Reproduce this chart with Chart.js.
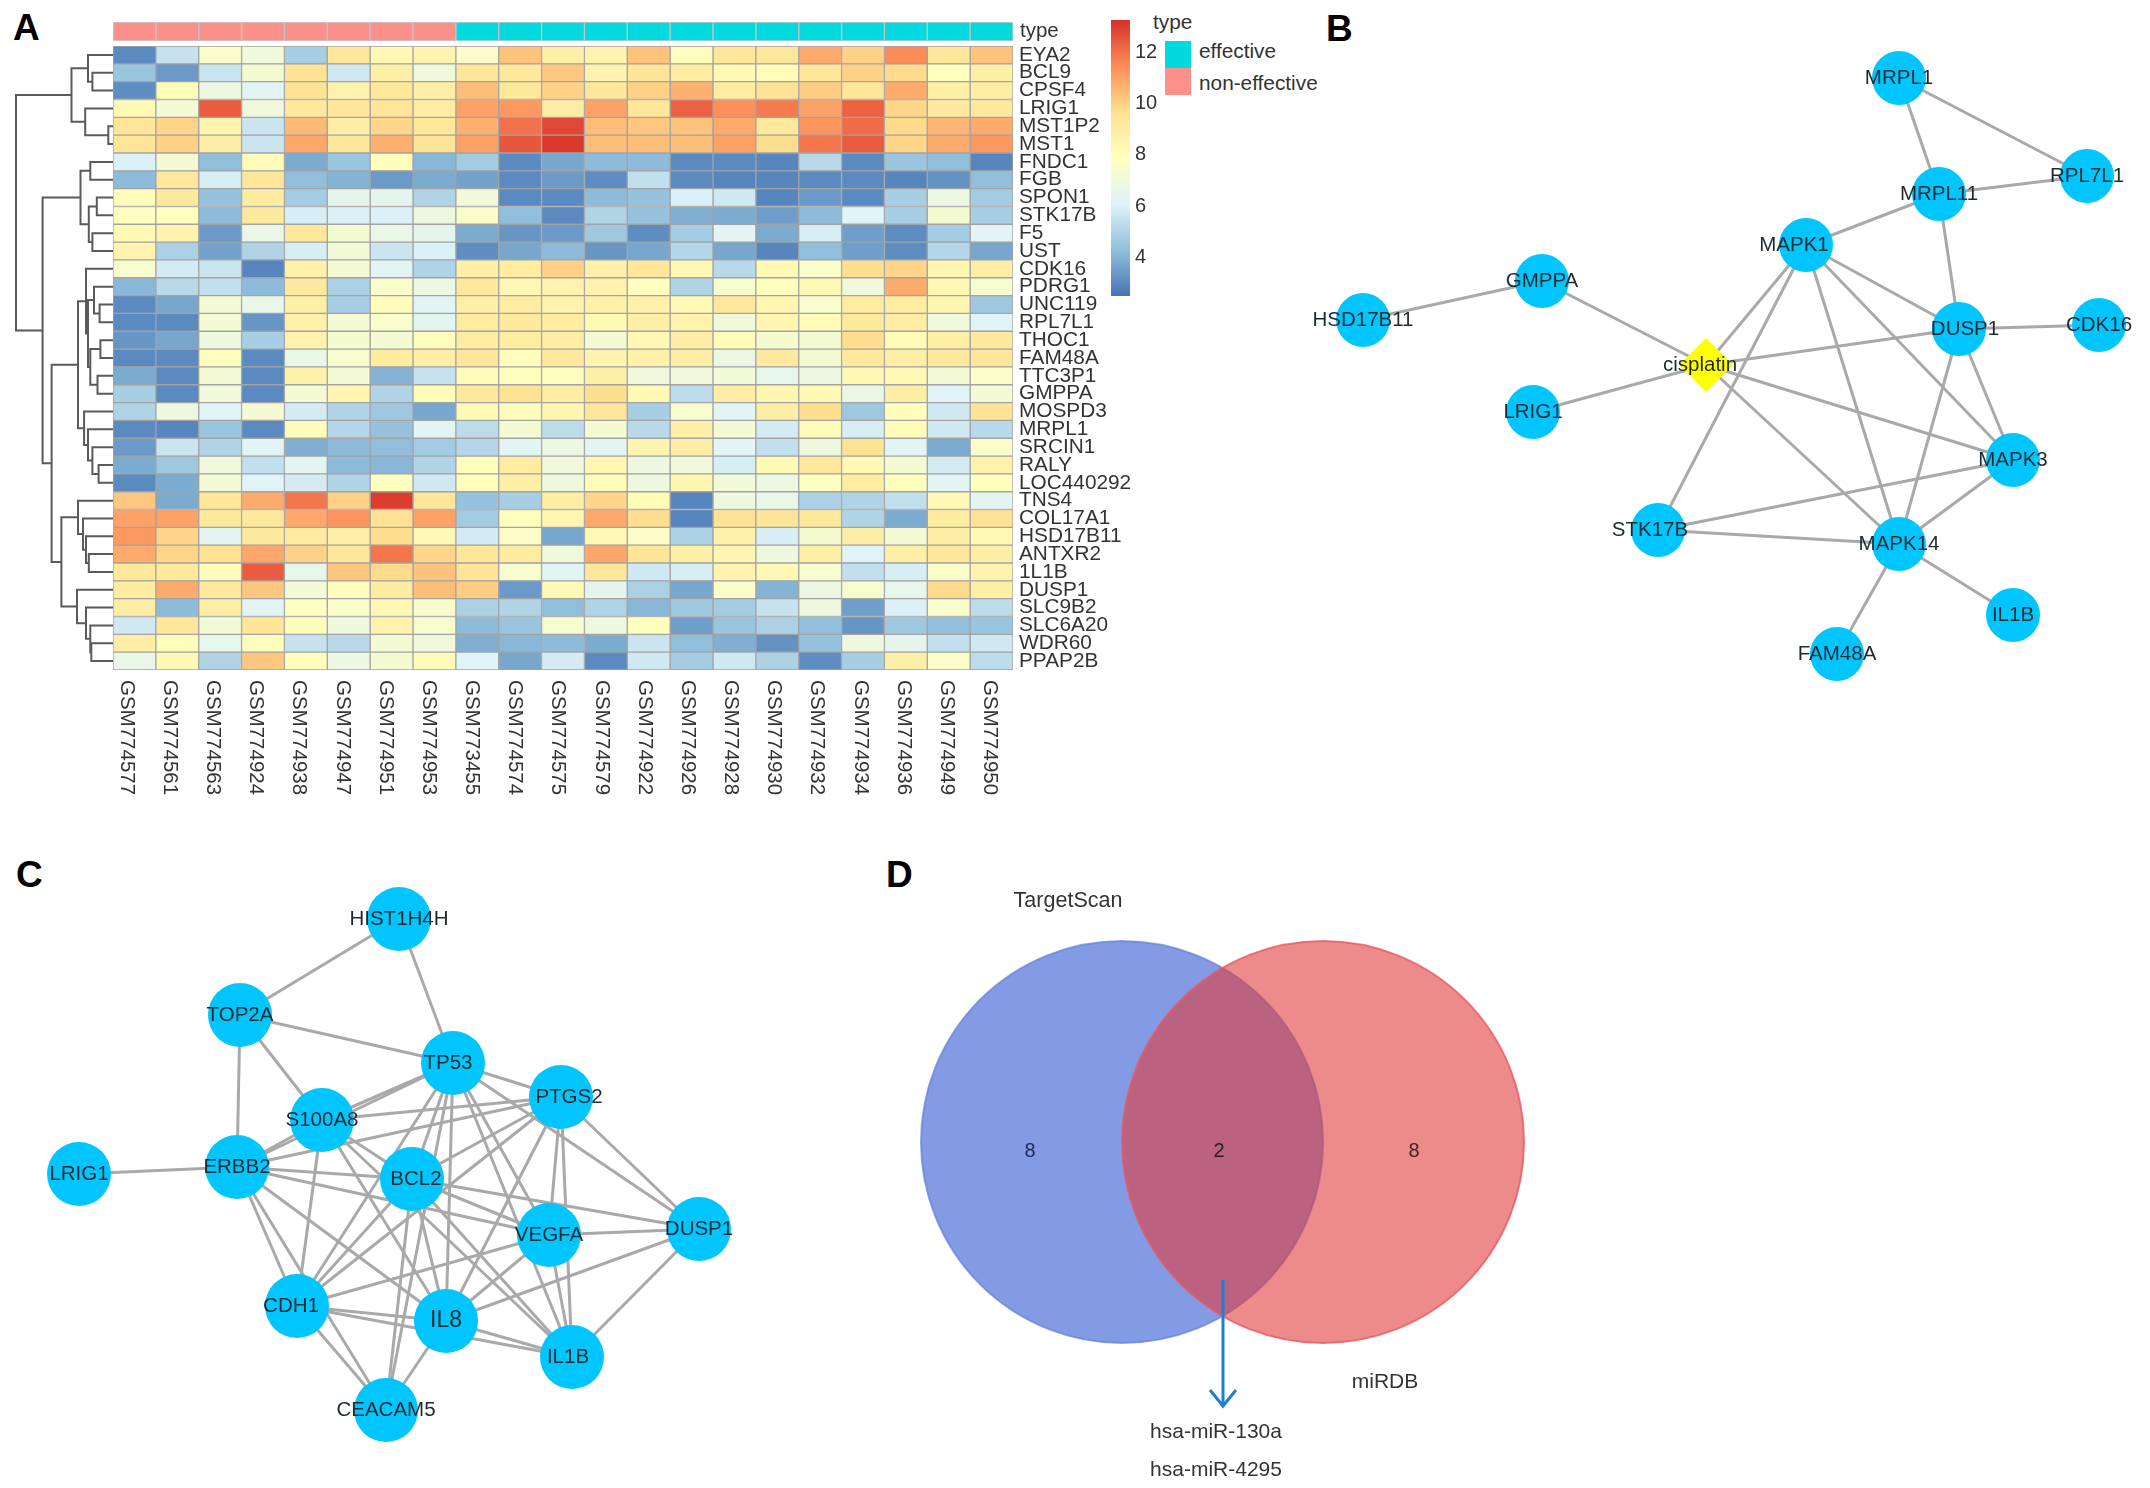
<!DOCTYPE html>
<html>
<head>
<meta charset="utf-8">
<title>Cisplatin response panels</title>
<script src="https://cdn.jsdelivr.net/npm/chart.js@4/dist/chart.umd.min.js"></script>
<style>
    html, body { margin: 0; padding: 0; background: #fff; }
    body { width: 2150px; height: 1488px; position: relative; overflow: hidden; font-family: "Liberation Sans", Arial, sans-serif; filter: blur(0.6px); }
    canvas { position: absolute; }
    .txt { position: absolute; color: #333; font-size: 20.8px; line-height: 1; white-space: nowrap; }
    .letter { position: absolute; color: #000; font-size: 37px; font-weight: bold; line-height: 1; }
    .swatch { position: absolute; left: 1165px; width: 26px; height: 27px; }
</style>
</head>
<body>
<div class="letter" style="left:13px;top:9px">A</div>
<div class="letter" style="left:1326px;top:10px">B</div>
<div class="letter" style="left:16px;top:856px">C</div>
<div class="letter" style="left:886px;top:856px">D</div>
<div class="txt" style="left:1153px;top:12px">type</div>
<div class="swatch" style="top:41px;background:#00d9dd"></div>
<div class="swatch" style="top:68px;background:#fb918a"></div>
<div class="txt" style="left:1199px;top:41px">effective</div>
<div class="txt" style="left:1199px;top:73px">non-effective</div>

<script>
// --- DATA ---
const genes = ['EYA2','BCL9','CPSF4','LRIG1','MST1P2','MST1','FNDC1','FGB','SPON1','STK17B','F5','UST','CDK16','PDRG1','UNC119','RPL7L1','THOC1','FAM48A','TTC3P1','GMPPA','MOSPD3','MRPL1','SRCIN1','RALY','LOC440292','TNS4','COL17A1','HSD17B11','ANTXR2','1L1B','DUSP1','SLC9B2','SLC6A20','WDR60','PPAP2B'];
const samples = ['GSM774577','GSM774561','GSM774563','GSM774924','GSM774938','GSM774947','GSM774951','GSM774953','GSM773455','GSM774574','GSM774575','GSM774579','GSM774922','GSM774926','GSM774928','GSM774930','GSM774932','GSM774934','GSM774936','GSM774949','GSM774950'];
const sampleTypes = ['non-effective','non-effective','non-effective','non-effective','non-effective','non-effective','non-effective','non-effective','effective','effective','effective','effective','effective','effective','effective','effective','effective','effective','effective','effective','effective'];
const typeRow = ['type'];

// one row per gene, one value per sample
const expression = [
    [3.0,5.5,7.5,7.0,4.8,9.3,8.3,8.5,7.5,10.3,8.8,8.5,10.3,8.0,9.3,9.2,10.8,10.0,11.5,9.3,10.3],
    [4.5,3.4,5.6,7.3,9.5,5.7,8.8,7.0,9.3,9.2,10.2,8.5,9.4,9.0,8.2,8.1,9.3,10.0,9.8,7.9,8.8],
    [3.1,8.1,6.8,6.2,9.5,8.6,9.2,8.8,10.4,9.2,10.0,9.3,10.0,10.7,9.0,9.5,10.1,9.3,10.8,8.8,8.9],
    [8.2,7.2,12.4,7.0,9.2,9.3,9.4,9.0,11.0,11.2,8.9,11.0,9.3,12.3,11.4,11.8,11.0,12.3,9.9,9.1,9.2],
    [9.4,9.9,8.5,5.6,10.5,8.9,9.9,9.2,10.7,12.0,12.8,10.4,10.2,10.3,10.8,9.2,11.3,12.1,9.8,10.6,10.8],
    [9.4,10.0,8.9,5.6,10.9,9.3,10.7,9.4,11.0,12.5,13.1,10.4,10.4,10.4,11.0,9.7,11.9,12.4,9.9,10.8,11.2],
    [6.0,7.2,4.3,8.1,3.8,4.5,8.0,4.1,4.7,3.0,3.7,4.2,4.2,3.0,3.0,2.9,5.2,3.0,4.5,4.3,2.9],
    [4.2,9.2,5.9,9.3,4.3,4.0,3.4,3.8,3.6,3.0,3.4,3.1,5.4,3.0,2.9,2.9,3.0,3.0,2.9,3.2,4.3],
    [8.0,9.2,4.4,9.0,4.7,6.4,6.4,5.0,7.0,3.0,3.0,4.2,4.4,6.0,5.7,2.9,3.4,3.0,4.8,6.8,4.7],
    [7.8,7.9,4.2,9.1,5.9,6.0,6.0,6.8,7.6,4.3,3.0,5.0,4.4,3.9,3.8,3.5,4.2,6.1,4.8,7.3,4.8],
    [8.2,8.5,3.4,6.6,9.2,7.3,6.6,6.4,3.8,3.3,3.4,4.6,3.1,4.7,6.2,3.8,5.9,3.5,3.1,4.7,6.2],
    [8.5,4.9,3.6,5.0,5.9,7.1,5.6,6.0,3.1,3.7,4.2,3.3,3.7,5.1,3.7,2.9,4.3,3.5,3.1,5.1,3.7],
    [7.4,5.8,5.6,2.9,8.7,7.2,6.2,5.0,8.8,9.0,10.0,8.7,9.3,8.3,5.2,8.2,7.5,9.7,9.9,8.4,8.8],
    [4.1,5.2,5.4,4.2,9.1,4.9,7.5,6.8,9.2,8.3,8.6,8.6,7.8,5.0,7.4,8.0,8.2,7.0,10.8,8.3,7.4],
    [3.0,3.7,7.2,6.6,8.8,4.8,8.1,6.2,8.8,9.0,8.6,8.7,8.7,8.2,9.2,8.4,7.4,9.0,9.0,8.4,4.6],
    [3.0,3.0,7.2,3.3,8.7,7.2,7.5,6.3,9.0,9.1,9.0,8.2,8.8,8.6,7.0,8.4,8.1,9.1,8.9,7.0,6.1],
    [3.3,3.7,6.9,4.8,8.6,7.3,7.2,8.0,9.0,9.0,8.9,7.2,8.3,8.9,8.1,7.3,7.2,9.7,8.1,8.8,9.2],
    [3.0,3.0,8.0,3.0,6.6,7.4,9.0,8.9,9.3,8.0,9.1,8.5,8.7,8.9,6.7,9.1,7.3,9.1,8.8,9.1,9.3],
    [3.8,3.0,7.2,3.0,8.6,7.2,4.0,5.5,8.1,8.0,8.0,8.8,7.0,7.0,7.1,6.5,6.8,8.3,8.2,7.2,7.6],
    [4.8,3.0,7.0,3.0,7.2,8.4,5.0,8.1,9.2,9.5,8.9,9.7,8.2,5.3,8.9,8.4,8.2,6.7,8.9,6.1,7.2],
    [5.0,6.8,6.2,7.2,5.8,5.0,4.6,3.7,8.2,8.0,8.4,9.3,4.8,7.4,6.2,8.9,9.7,4.6,8.0,5.7,9.5],
    [3.0,2.9,4.5,3.0,8.0,5.1,4.4,6.2,5.3,7.2,5.3,7.3,5.2,8.8,7.2,5.8,8.1,5.9,8.1,5.7,5.2],
    [3.4,5.6,5.0,6.1,3.9,4.2,4.3,4.7,5.1,6.2,6.8,6.2,8.5,8.9,6.2,5.4,6.9,9.5,6.2,3.8,7.6],
    [3.8,4.6,7.0,5.4,6.3,4.2,4.1,5.0,8.0,9.0,7.0,8.4,6.8,7.0,5.9,8.2,9.2,8.2,7.3,5.8,8.6],
    [3.0,3.8,7.1,6.1,5.8,5.0,7.9,5.7,8.0,8.8,6.9,8.1,6.9,8.4,7.1,6.8,7.8,9.0,8.0,6.2,7.9],
    [10.2,3.8,9.3,10.8,11.9,10.0,13.0,9.3,4.4,4.8,8.9,9.9,8.1,2.9,6.9,6.6,4.9,5.0,5.4,8.2,6.3],
    [11.0,11.0,9.2,9.2,10.9,11.3,9.6,11.0,4.7,8.0,8.4,10.9,9.7,2.9,9.5,9.4,9.2,5.0,3.8,9.0,9.6],
    [11.2,9.9,6.3,9.1,9.0,8.8,9.7,8.2,5.8,7.6,3.7,8.2,7.6,4.9,8.6,5.9,7.3,8.9,7.2,8.9,8.2],
    [10.8,9.9,9.5,10.9,10.0,9.3,11.9,9.9,9.3,9.0,7.0,10.9,9.4,8.8,8.4,6.9,8.8,6.1,8.8,9.3,8.9],
    [9.2,9.2,8.0,12.4,6.5,10.2,9.8,10.3,9.4,7.4,6.2,9.3,5.7,5.9,8.5,8.3,7.4,5.4,5.9,7.6,8.6],
    [9.0,10.8,9.2,10.2,7.1,8.0,9.0,10.4,10.1,3.4,8.2,6.4,4.9,3.7,7.6,4.0,6.8,7.4,6.5,9.8,8.8],
    [8.9,4.2,8.8,6.2,7.8,7.6,8.3,7.5,4.9,5.0,4.3,5.0,4.1,4.6,4.7,5.5,6.9,3.5,6.0,7.5,5.3],
    [5.7,9.3,7.1,9.4,8.0,6.9,8.6,7.4,4.2,4.5,7.4,6.9,7.9,3.5,4.5,4.9,4.3,3.3,4.6,4.3,4.5],
    [8.9,8.1,6.5,8.0,5.5,5.2,7.2,7.0,3.9,4.1,4.2,3.8,5.6,4.3,3.9,3.2,4.4,6.9,6.4,5.4,5.7],
    [6.6,8.2,5.0,10.2,8.0,6.8,7.3,8.1,6.1,3.7,5.8,3.0,5.7,4.7,5.7,4.9,3.1,4.8,8.8,7.6,5.3]
];

// row dendrogram: [merge height, branch, branch], a bare number is a row index
const rowTree = [97,
    [41.5,
        [25, 0, [20.6, 1, 2]],
        [27.8, 3, [4.7, 4, 5]]],
    [70.4,
        [32.5,
            [22.7, 6, 7],
            [24.2, [16.2, 8, 9], [20.6, 10, 11]]],
        [61.4,
            [35,
                [27, 12, [25, [19, 13, [13.4, 14, 15]], [22.7, [12.6, 16, 17], [15.5, 18, 19]]]],
                [28.9, 20, [25, 21, [20.6, 22, [14.4, 23, 24]]]]],
            [51.6,
                [35, 25, [30, 26, [27, 27, [24.2, 28, 29]]]],
                [36, 30, [27, 31, [22.7, 32, [21.7, 33, 34]]]]]]]];

const colorRange = [2.5, 13.25];
const colorTicks = [4, 6, 8, 10, 12];

// panel B network, node positions are the layout on the page
const bNodes = ['MRPL1','RPL7L1','MRPL11','MAPK1','GMPPA','HSD17B11','DUSP1','CDK16','LRIG1','MAPK3','STK17B','MAPK14','IL1B','FAM48A'];
const bX = [1899,2087,1939,1806,1542,1363,1959,2099,1533,2013,1658,1899,2013,1837];
const bY = [78,176,194,245,281,320,329,325,412,460,530,544,615,654];
const bDrug = ['cisplatin'];
const bDrugX = [1706];
const bDrugY = [365];
const bEdges = [
    ['MRPL1','MRPL11'],['MRPL1','RPL7L1'],['MRPL11','RPL7L1'],['MRPL11','MAPK1'],['MRPL11','DUSP1'],
    ['MAPK1','DUSP1'],['MAPK1','MAPK3'],['MAPK1','MAPK14'],['MAPK1','cisplatin'],['MAPK1','STK17B'],
    ['GMPPA','HSD17B11'],['GMPPA','cisplatin'],['LRIG1','cisplatin'],['cisplatin','DUSP1'],['cisplatin','MAPK3'],
    ['cisplatin','MAPK14'],['DUSP1','CDK16'],['DUSP1','MAPK3'],['DUSP1','MAPK14'],['MAPK3','STK17B'],
    ['MAPK3','MAPK14'],['STK17B','MAPK14'],['MAPK14','IL1B'],['MAPK14','FAM48A']
];

// panel C network
const cNodes = ['HIST1H4H','TOP2A','TP53','PTGS2','S100A8','ERBB2','LRIG1','BCL2','VEGFA','DUSP1','CDH1','IL8','IL1B','CEACAM5'];
const cX = [399,240,453,561,322,237,79,412,549,699,297,446,572,386];
const cY = [919,1015,1063,1097,1120,1167,1174,1179,1235,1229,1306,1321,1357,1410];
const cEdges = [
    ['HIST1H4H','TOP2A'],['HIST1H4H','TP53'],['TOP2A','TP53'],['TOP2A','S100A8'],['TOP2A','ERBB2'],['LRIG1','ERBB2'],
    ['TP53','S100A8'],['TP53','ERBB2'],['TP53','PTGS2'],['TP53','BCL2'],['TP53','VEGFA'],['TP53','CDH1'],['TP53','IL8'],['TP53','IL1B'],['TP53','DUSP1'],['TP53','CEACAM5'],
    ['PTGS2','S100A8'],['PTGS2','ERBB2'],['PTGS2','BCL2'],['PTGS2','VEGFA'],['PTGS2','CDH1'],['PTGS2','IL8'],['PTGS2','IL1B'],['PTGS2','DUSP1'],
    ['S100A8','BCL2'],['S100A8','CDH1'],['S100A8','IL8'],['S100A8','IL1B'],['S100A8','ERBB2'],
    ['ERBB2','BCL2'],['ERBB2','VEGFA'],['ERBB2','CDH1'],['ERBB2','IL8'],['ERBB2','CEACAM5'],
    ['BCL2','VEGFA'],['BCL2','DUSP1'],['BCL2','CDH1'],['BCL2','IL8'],['BCL2','IL1B'],['BCL2','CEACAM5'],
    ['VEGFA','DUSP1'],['VEGFA','CDH1'],['VEGFA','IL8'],['VEGFA','IL1B'],
    ['DUSP1','IL8'],['DUSP1','IL1B'],
    ['CDH1','IL8'],['CDH1','IL1B'],['CDH1','CEACAM5'],
    ['IL8','IL1B'],['IL8','CEACAM5']
];

// panel D venn
const vennSets = ['TargetScan','miRDB'];
const vennCounts = [8, 2, 8];
const vennHits = ['hsa-miR-130a','hsa-miR-4295'];

// --- STYLE HELPERS ---
Chart.defaults.font.family = '"Liberation Sans", Arial, sans-serif';
Chart.defaults.color = '#333';
Chart.defaults.animation = false;

const rampColors = [[69,117,180],[145,191,219],[224,243,248],[255,255,191],[254,224,144],[252,141,89],[215,48,39]];
const typeColors = { 'effective': '#00d9dd', 'non-effective': '#fb918a' };
const GRID = '#a3a3a3';
const EDGE = '#a9a9a9';
const NODE = '#00c5ff';
// labels that sit off the middle of their node in the picture
const bLabelShift = { MAPK1: -12, cisplatin: -6, STK17B: -8, DUSP1: 6 };
const cLabelShift = { PTGS2: 8, BCL2: 4, CDH1: -6, TP53: -5, IL1B: -4 };

function valueColor(v) {
    const t = (v - colorRange[0]) / (colorRange[1] - colorRange[0]) * (rampColors.length - 1);
    const i = Math.max(0, Math.min(rampColors.length - 2, Math.floor(t)));
    const f = Math.max(0, Math.min(1, t - i));
    const c = rampColors[i].map((a, k) => Math.round(a + (rampColors[i + 1][k] - a) * f));
    return 'rgb(' + c.join(',') + ')';
}

function makeCanvas(left, top, w, h) {
    const cv = document.createElement('canvas');
    cv.width = w;
    cv.height = h;
    cv.style.left = left + 'px';
    cv.style.top = top + 'px';
    cv.style.width = w + 'px';
    cv.style.height = h + 'px';
    document.body.appendChild(cv);
    return cv;
}

const baseOptions = {
    responsive: false,
    devicePixelRatio: 1,
    layout: { autoPadding: false },
    plugins: { legend: { display: false }, tooltip: { enabled: false } }
};

function fixedWidth(w) {
    return function(s) {
        s.width = w;
        s.paddingTop = 0;
        s.paddingBottom = 0;
    };
}

// --- A: annotation strip and heatmap ---
const labelAxisWidth = 120;

new Chart(makeCanvas(113, 22, 900 + labelAxisWidth, 19), {
    type: 'bar',
    data: {
        labels: typeRow,
        datasets: samples.map((s, c) => ({
            data: [1],
            backgroundColor: typeColors[sampleTypes[c]],
            borderColor: 'rgba(160,160,160,0.55)',
            borderWidth: 1,
            borderSkipped: false
        }))
    },
    options: {
        ...baseOptions,
        indexAxis: 'y',
        datasets: { bar: { barPercentage: 1, categoryPercentage: 1 } },
        scales: {
            x: { stacked: true, min: 0, max: samples.length, display: false },
            y: {
                stacked: true, position: 'right', afterFit: fixedWidth(labelAxisWidth),
                grid: { display: false, drawTicks: false }, border: { display: false },
                ticks: { padding: 7, font: { size: 20.5 }, color: '#333' }
            }
        }
    }
});

const sampleLabels = {
    id: 'sampleLabels',
    afterDraw(chart) {
        const ctx = chart.ctx;
        ctx.save();
        ctx.font = '20.5px "Liberation Sans"';
        ctx.fillStyle = '#333';
        ctx.textAlign = 'left';
        ctx.textBaseline = 'middle';
        samples.forEach((s, c) => {
            ctx.save();
            // the label row runs a little wider than the columns
            ctx.translate(chart.scales.x.getPixelForValue(c + 0.5) - 8 + c * 0.31, chart.chartArea.bottom + 10);
            ctx.rotate(Math.PI / 2);
            ctx.fillText(s, 0, 0);
            ctx.restore();
        });
        ctx.restore();
    }
};

new Chart(makeCanvas(113, 46, 900 + labelAxisWidth, 624 + 140), {
    type: 'bar',
    data: {
        labels: genes,
        datasets: samples.map((s, c) => ({
            label: s,
            data: genes.map(() => 1),
            backgroundColor: genes.map((g, r) => valueColor(expression[r][c])),
            borderColor: GRID,
            borderWidth: 1,
            borderSkipped: false
        }))
    },
    options: {
        ...baseOptions,
        indexAxis: 'y',
        layout: { autoPadding: false, padding: { bottom: 140 } },
        datasets: { bar: { barPercentage: 1, categoryPercentage: 1 } },
        scales: {
            x: { stacked: true, min: 0, max: samples.length, display: false },
            y: {
                stacked: true, position: 'right', afterFit: fixedWidth(labelAxisWidth),
                grid: { display: false, drawTicks: false }, border: { display: false },
                ticks: { autoSkip: false, padding: 6, font: { size: 20.8 }, color: '#333' }
            }
        }
    },
    plugins: [sampleLabels]
});

// --- A: row dendrogram ---
const treeSegments = [];
function walkTree(node) {
    if (typeof node === 'number') return { h: 0, y: node + 0.5 };
    const a = walkTree(node[1]);
    const b = walkTree(node[2]);
    treeSegments.push([{ x: a.h, y: a.y }, { x: node[0], y: a.y }, { x: node[0], y: b.y }, { x: b.h, y: b.y }]);
    return { h: node[0], y: (a.y + b.y) / 2 };
}
walkTree(rowTree);

new Chart(makeCanvas(14, 46, 99, 624), {
    type: 'scatter',
    data: {
        datasets: treeSegments.map(seg => ({
            data: seg, showLine: true, pointRadius: 0, borderColor: '#5a5a5a', borderWidth: 2
        }))
    },
    options: {
        ...baseOptions,
        scales: {
            x: { type: 'linear', reverse: true, min: 0, max: 99, display: false },
            y: { type: 'linear', reverse: true, min: 0, max: genes.length, display: false }
        }
    }
});

// --- A: colour key ---
new Chart(makeCanvas(1105, 10, 65, 300), {
    type: 'bar',
    data: {
        labels: ['key'],
        datasets: [{
            data: [colorRange],
            borderWidth: 0,
            backgroundColor(context) {
                const area = context.chart.chartArea;
                if (!area) return 'rgb(69,117,180)';
                const g = context.chart.ctx.createLinearGradient(0, area.bottom, 0, area.top);
                rampColors.forEach((c, i) => g.addColorStop(i / (rampColors.length - 1), 'rgb(' + c.join(',') + ')'));
                return g;
            }
        }]
    },
    options: {
        ...baseOptions,
        layout: { autoPadding: false, padding: { top: 10, bottom: 14, left: 6 } },
        datasets: { bar: { barPercentage: 1, categoryPercentage: 1 } },
        scales: {
            x: { display: false },
            y: {
                position: 'right', min: colorRange[0], max: colorRange[1],
                afterBuildTicks(s) { s.ticks = colorTicks.map(v => ({ value: v })); },
                afterFit: fixedWidth(40),
                grid: { display: false, drawTicks: false }, border: { display: false },
                ticks: { padding: 5, font: { size: 20 }, color: '#333' }
            }
        }
    }
});

// --- B and C: networks ---
function networkChart(box, names, xs, ys, edges, extra, shifts, bigLabels) {
    const pos = {};
    names.forEach((n, i) => { pos[n] = { x: xs[i], y: ys[i] }; });
    if (extra) pos[extra.name] = { x: extra.x, y: extra.y };

    const edgeSets = edges.map(e => ({
        type: 'line', data: [pos[e[0]], pos[e[1]]], borderColor: EDGE, borderWidth: 3,
        pointRadius: 0, order: 5, clip: false
    }));
    const nodeSet = {
        data: names.map(n => pos[n]), backgroundColor: NODE, borderWidth: 0,
        pointRadius: box.r, order: 1, clip: false
    };
    const datasets = edgeSets.concat([nodeSet]);
    if (extra) {
        datasets.push({
            data: [pos[extra.name]], backgroundColor: '#ffff00', borderWidth: 0,
            pointStyle: 'rectRot', pointRadius: 27, order: 0, clip: false
        });
    }

    const nodeLabels = {
        id: 'nodeLabels',
        afterDatasetsDraw(chart) {
            const ctx = chart.ctx;
            ctx.save();
            ctx.fillStyle = '#1d2a30';
            ctx.textAlign = 'center';
            ctx.textBaseline = 'middle';
            Object.keys(pos).forEach(n => {
                ctx.font = (bigLabels[n] || 20.5) + 'px "Liberation Sans"';
                const px = chart.scales.x.getPixelForValue(pos[n].x) + (shifts[n] || 0);
                ctx.fillText(n, px, chart.scales.y.getPixelForValue(pos[n].y));
            });
            ctx.restore();
        }
    };

    new Chart(makeCanvas(box.left, box.top, box.w, box.h), {
        type: 'scatter',
        data: { datasets: datasets },
        options: {
            ...baseOptions,
            scales: {
                x: { type: 'linear', min: box.left, max: box.left + box.w, display: false },
                y: { type: 'linear', reverse: true, min: box.top, max: box.top + box.h, display: false }
            }
        },
        plugins: [nodeLabels]
    });
}

networkChart({ left: 1300, top: 20, w: 850, h: 690, r: 27 }, bNodes, bX, bY, bEdges,
    { name: bDrug[0], x: bDrugX[0], y: bDrugY[0] }, bLabelShift, {});
networkChart({ left: 20, top: 860, w: 760, h: 620, r: 32 }, cNodes, cX, cY, cEdges,
    null, cLabelShift, { IL8: 23 });

// --- D: venn ---
const vennX = [1122, 1323];
const vennY = [1142, 1142];
const vennR = [201, 201];
const arrowShaft = [{ x: 1228, y: 1286 }, { x: 1228, y: 1412 }];
const arrowHead = [{ x: 1215, y: 1396 }, { x: 1228, y: 1412 }, { x: 1241, y: 1396 }];

const vennLabels = {
    id: 'vennLabels',
    afterDatasetsDraw(chart) {
        const ctx = chart.ctx;
        const put = (text, x, y, size, color) => {
            ctx.font = size + 'px "Liberation Sans"';
            ctx.fillStyle = color;
            ctx.fillText(text, chart.scales.x.getPixelForValue(x), chart.scales.y.getPixelForValue(y));
        };
        ctx.save();
        ctx.textAlign = 'center';
        ctx.textBaseline = 'middle';
        put(vennSets[0], 1068, 901, 21.5, '#333');
        put(vennSets[1], 1385, 1382, 21, '#333');
        put(String(vennCounts[0]), 1030, 1151, 20, '#1f2a55');
        put(String(vennCounts[1]), 1219, 1151, 20, '#2a1a2a');
        put(String(vennCounts[2]), 1414, 1151, 20, '#40242a');
        put(vennHits[0], 1216, 1432, 21, '#333');
        put(vennHits[1], 1216, 1470, 21, '#333');
        ctx.restore();
    }
};

arrowShaft.forEach(p => { p.x -= 5; p.y -= 6; });
arrowHead.forEach(p => { p.x -= 5; p.y -= 6; });

new Chart(makeCanvas(880, 860, 700, 628), {
    type: 'bubble',
    data: {
        datasets: [
            { data: [{ x: vennX[1], y: vennY[1], r: vennR[1] }], backgroundColor: 'rgba(225,60,60,0.6)', borderColor: 'rgba(232,90,100,0.8)', borderWidth: 2, order: 2, clip: false },
            { data: [{ x: vennX[0], y: vennY[0], r: vennR[0] }], backgroundColor: 'rgba(65,100,215,0.65)', borderColor: 'rgba(100,130,220,0.7)', borderWidth: 2, order: 3, clip: false },
            { type: 'line', data: arrowShaft, borderColor: '#1f7fcf', borderWidth: 3, pointRadius: 0, order: 1 },
            { type: 'line', data: arrowHead, borderColor: '#1f7fcf', borderWidth: 3, pointRadius: 0, order: 1 }
        ]
    },
    options: {
        ...baseOptions,
        scales: {
            x: { type: 'linear', min: 880, max: 1580, display: false },
            y: { type: 'linear', reverse: true, min: 860, max: 1488, display: false }
        }
    },
    plugins: [vennLabels]
});
</script>
</body>
</html>
